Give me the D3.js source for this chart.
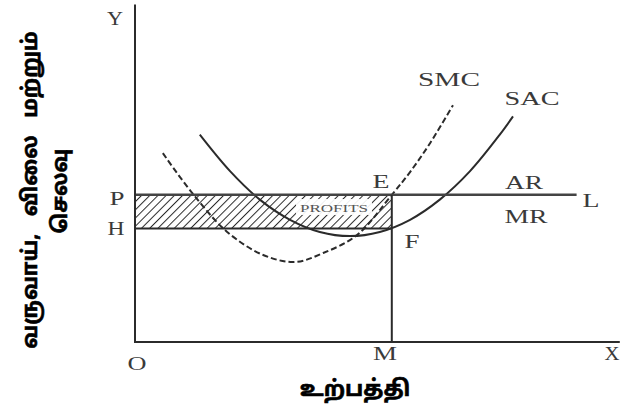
<!DOCTYPE html>
<html><head><meta charset="utf-8">
<script src="https://cdn.jsdelivr.net/npm/d3@7/dist/d3.min.js"></script>
<style>body{margin:0;background:#fff}svg{display:block}</style>
</head><body>
<svg id="c" width="630" height="408"></svg>
<script>
// Data (quantity 0-100, price 0-100)
const sacQ = [13.5, 19.8, 26, 32.3, 38.5, 44.8, 51, 57.3, 63.5, 69.8, 76, 78.75];
const sacV = [64.8, 53.4, 44.5, 38.2, 34.4, 33.1, 34.4, 38.2, 44.5, 53.4, 64.8, 70.5];
const smcQ = [5.8, 11.9, 19.2, 26.7, 33.3, 39.2, 46.25, 53.5, 57.3, 61.5, 66.25];
const smcV = [59, 46.6, 34.4, 27.2, 25, 27.8, 33.4, 46, 53.1, 62.2, 74];
const priceP = 46;      // AR = MR = P
const costH = 35.5;     // SAC at M
const outputM = 53.5;   // equilibrium output
const lineEnd = 92;     // end of AR/MR line (L)
const axisMaxQ = 101, axisMaxV = 105.5;
const yTitle = ["வருவாய், விலை மற்றும்", "செலவு"];
const xTitle = "உற்பத்தி";

const svg = d3.select("#c");
const x = d3.scaleLinear().domain([0, 100]).range([135, 615]);
const y = d3.scaleLinear().domain([0, 100]).range([342, 22]);
const ink = "#2b2b2b";

// hatch pattern
const defs = svg.append("defs");
const pat = defs.append("pattern").attr("id","hatch").attr("patternUnits","userSpaceOnUse")
  .attr("width",5.8).attr("height",6).attr("patternTransform","rotate(45)");
pat.append("rect").attr("width",6).attr("height",6).attr("fill","#fff");
pat.append("line").attr("x1",0).attr("y1",0).attr("x2",0).attr("y2",6)
  .attr("stroke",ink).attr("stroke-width",2);

// profit rectangle
svg.append("rect").attr("x", x(0)).attr("y", y(priceP))
  .attr("width", x(outputM) - x(0)).attr("height", y(costH) - y(priceP))
  .attr("fill","url(#hatch)");

// PROFITS label box
svg.append("rect").attr("x", 296).attr("y", 199).attr("width", 76).attr("height", 16).attr("fill","#fff").attr("opacity",0.92);
svg.append("text").attr("x", 334).attr("y", 212).attr("text-anchor","middle")
  .attr("font-family","Liberation Serif, serif").attr("font-size",11).attr("fill","#555")
  .attr("textLength",68).attr("lengthAdjust","spacingAndGlyphs").text("PROFITS");

const line = d3.line().x(d => x(d[0])).y(d => y(d[1])).curve(d3.curveCatmullRom.alpha(0.5));

// SAC solid
svg.append("path").datum(sacQ.map((q,i)=>[q, sacV[i]])).attr("d", line)
  .attr("fill","none").attr("stroke",ink).attr("stroke-width",2);
// SMC dashed
svg.append("path").datum(smcQ.map((q,i)=>[q, smcV[i]])).attr("d", line)
  .attr("fill","none").attr("stroke",ink).attr("stroke-width",2).attr("stroke-dasharray","6,3");

// H line
svg.append("line").attr("x1", x(0)).attr("x2", x(outputM)).attr("y1", y(costH)).attr("y2", y(costH))
  .attr("stroke",ink).attr("stroke-width",2);
// AR/MR line
svg.append("line").attr("x1", x(0)).attr("x2", x(lineEnd)).attr("y1", y(priceP)).attr("y2", y(priceP))
  .attr("stroke","#444").attr("stroke-width",2.5);
// M vertical
svg.append("line").attr("x1", x(outputM)).attr("x2", x(outputM)).attr("y1", y(priceP)).attr("y2", y(0))
  .attr("stroke",ink).attr("stroke-width",2);

// axes
svg.append("line").attr("x1", x(0)).attr("x2", x(0)).attr("y1", y(0)).attr("y2", y(axisMaxV))
  .attr("stroke",ink).attr("stroke-width",2);
svg.append("line").attr("x1", x(0)-1).attr("x2", x(axisMaxQ)).attr("y1", y(0)).attr("y2", y(0))
  .attr("stroke",ink).attr("stroke-width",2);

// serif labels [text, cx, baseline, width]
const labels = [
  ["Y",115,25,16],["P",117,205,15],["H",116,235,17],["O",137,370,19],
  ["M",385,360,24],["X",612,360,15],["E",381,188,17],["F",412,248,15],
  ["SMC",449,86,62],["SAC",532,105,55],["AR",524,189,38],["MR",526,223,43],["L",591,207,17]
];
svg.selectAll("text.lab").data(labels).enter().append("text").attr("class","lab")
  .attr("x", d=>d[1]).attr("y", d=>d[2]).attr("text-anchor","middle")
  .attr("font-family","Liberation Serif, serif").attr("font-size",19).attr("fill","#3a3a3a")
  .attr("textLength", d=>d[3]).attr("lengthAdjust","spacingAndGlyphs").text(d=>d[0]);

// Tamil titles
const tf = "'Noto Sans Tamil','Latha','Lohit Tamil',sans-serif";
yTitle.forEach((t,i)=>{
  svg.append("text").attr("transform",`translate(${i===0?37:67},${i===0?190:191}) rotate(-90)`)
    .attr("text-anchor","middle").attr("font-family",tf).attr("font-weight","bold")
    .attr("font-size",21).attr("word-spacing",12).attr("fill","#000").attr("stroke","#000").attr("stroke-width",0.6).text(t);
});
svg.append("text").attr("x",355).attr("y",396).attr("text-anchor","middle")
  .attr("font-family",tf).attr("font-weight","bold").attr("font-size",22).attr("fill","#000")
  .attr("stroke","#000").attr("stroke-width",0.6).text(xTitle);
</script>
</body></html>
